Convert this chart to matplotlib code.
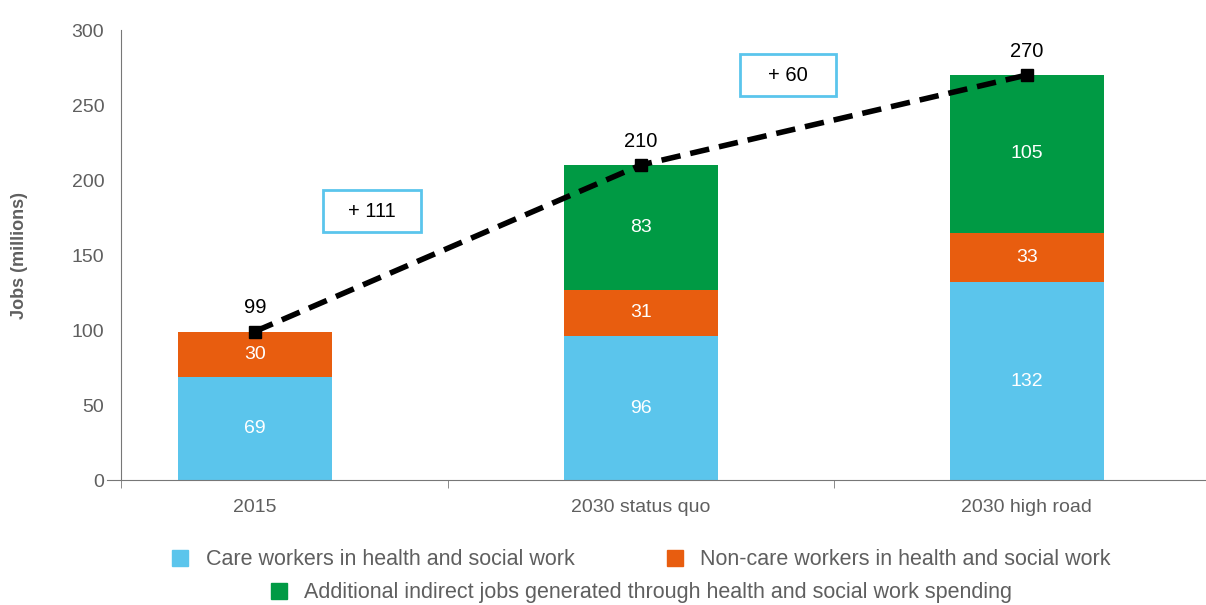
import matplotlib
matplotlib.use("Agg")
from matplotlib import pyplot as plt
from matplotlib.patches import Patch, Rectangle

categories = ["2015", "2030 status quo", "2030 high road"]
care = [69, 96, 132]
noncare = [30, 31, 33]
indirect = [0, 83, 105]
totals = [99, 210, 270]
yticks = [0, 50, 100, 150, 200, 250, 300]
gains = ["+ 111", "+ 60"]

c_care = "#5BC5EC"
c_non = "#E85D0F"
c_ind = "#009A44"
grey = "#5f5f5f"

plt.rcParams["font.family"] = ["Liberation Sans", "DejaVu Sans"]

fig = plt.figure(figsize=(12.06, 6.05), dpi=100)
ax = fig.add_axes([0.0887, 0.2066, 0.9113, 0.7438])

x = list(range(len(categories)))
w = 0.40
ax.bar(x, care, w, color=c_care)
ax.bar(x, noncare, w, bottom=care, color=c_non)
bot2 = [a + b for a, b in zip(care, noncare)]
ax.bar(x, indirect, w, bottom=bot2, color=c_ind)

for i in x:
    ax.text(i, care[i] / 2, str(care[i]), ha="center", va="center", color="white", fontsize=14)
    ax.text(i, care[i] + noncare[i] / 2, str(noncare[i]), ha="center", va="center", color="white", fontsize=14)
    if indirect[i]:
        ax.text(i, bot2[i] + indirect[i] / 2, str(indirect[i]), ha="center", va="center", color="white", fontsize=14)

ax.plot(x, totals, color="black", lw=4, ls=(0, (3.5, 1.8)), marker="s", ms=9, zorder=5)
for i in x:
    ax.annotate(str(totals[i]), (i, totals[i]), xytext=(0, 17), textcoords="offset points",
                ha="center", va="center", fontsize=14.5, color="black")

# boxes with the gains between scenarios
for (x0, x1, y0, y1), g in zip([(0.176, 0.430, 165.3, 193.3), (1.256, 1.505, 256, 284)], gains):
    ax.add_patch(Rectangle((x0, y0), x1 - x0, y1 - y0, fc="white", ec=c_care, lw=2, zorder=6))
    ax.text((x0 + x1) / 2, (y0 + y1) / 2, g, ha="center", va="center", fontsize=14.5, zorder=7)

ax.set_xlim(-0.383, 2.464)
ax.set_ylim(0, 300)
ax.set_yticks(yticks)
ax.set_xticks(x)
ax.set_xticklabels(categories)
ax.set_xticks([-0.347, 0.5, 1.5], minor=True)
ax.tick_params(axis="x", which="major", length=0, pad=14, labelsize=14, labelcolor=grey)
ax.tick_params(axis="x", which="minor", length=6, direction="out", color="#777777")
ax.tick_params(axis="y", length=0, pad=12, labelsize=14, labelcolor=grey)
for s in ["top", "right"]:
    ax.spines[s].set_visible(False)
ax.spines["left"].set_position(("data", -0.347))
ax.spines["left"].set_color("#777777")
ax.spines["bottom"].set_color("#777777")
ax.spines["left"].set_bounds(0, 300)
ax.set_ylabel("Jobs (millions)", fontsize=13, fontweight="bold", color=grey)
ax.yaxis.set_label_coords(-0.072, 0.5)

h1 = [Patch(color=c_care), Patch(color=c_non)]
fig.legend(h1, ["Care workers in health and social work", "Non-care workers in health and social work"],
           loc="center", bbox_to_anchor=(0.532, 0.075), ncol=2, frameon=False, fontsize=15.5,
           handlelength=0.75, handleheight=0.75, handletextpad=0.8, columnspacing=4.3, labelcolor=grey)
fig.legend([Patch(color=c_ind)], ["Additional indirect jobs generated through health and social work spending"],
           loc="center", bbox_to_anchor=(0.532, 0.02), frameon=False, fontsize=15.5,
           handlelength=0.75, handleheight=0.75, handletextpad=0.8, labelcolor=grey)

fig.savefig("out.png", dpi=100)
